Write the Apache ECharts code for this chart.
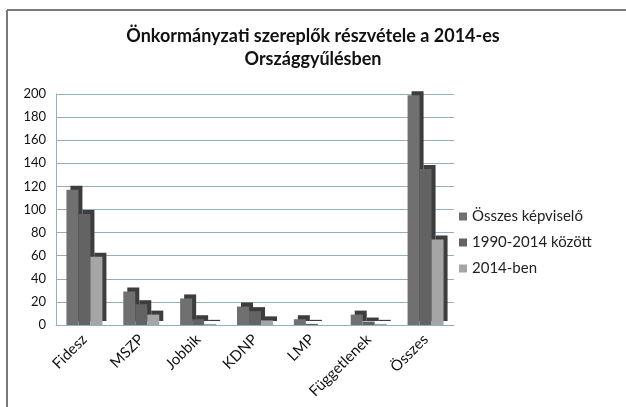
<!DOCTYPE html>
<html>
<head>
<meta charset="utf-8">
<script src="https://cdn.jsdelivr.net/npm/echarts@6/dist/echarts.min.js"></script>
<style>
  html, body { margin: 0; padding: 0; background: #fff; }
  #chart { width: 626px; height: 407px; }
</style>
</head>
<body>
<div id="chart"></div>
<script>
const categories = ['Fidesz', 'MSZP', 'Jobbik', 'KDNP', 'LMP', 'Függetlenek', 'Összes']
const osszesKepviselo = [117, 29, 23, 16, 5, 9, 199]
const kozott1990_2014 = [96, 18, 5, 12, 1, 3, 135]
const ben2014 = [59, 9, 1, 4, 0, 1, 74]
const seriesNames = ['Összes képviselő', '1990-2014 között', '2014-ben']
const colors = ['#707070', '#636363', '#a5a5a5']

const font = 'Lato, "Open Sans", sans-serif'

// fake the Excel 3D look: a dark copy shifted up-right acts as side and top face
const bar3d = (name, data, color) => ({
  name,
  type: 'bar',
  data,
  barWidth: 12,
  barGap: '0%',
  itemStyle: {
    color,
    shadowColor: '#3d3d3d',
    shadowOffsetX: 4,
    shadowOffsetY: -4,
    shadowBlur: 0,
  },
})

const chart = echarts.init(document.getElementById('chart'))
chart.setOption({
  animation: false,
  color: colors,
  title: {
    text: 'Önkormányzati szereplők részvétele a 2014-es\nOrszággyűlésben',
    left: 'center',
    top: 20,
    textStyle: { fontFamily: font, fontSize: 18, fontWeight: 'bold', color: '#111', lineHeight: 23 },
  },
  legend: {
    orient: 'vertical',
    left: 454,
    top: 204,
    itemWidth: 8,
    itemHeight: 8,
    itemGap: 11,
    icon: 'rect',
    textStyle: { fontFamily: font, fontSize: 15, color: '#222' },
    data: seriesNames,
  },
  grid: { left: 56, right: 172, top: 94, bottom: 82 },
  xAxis: {
    type: 'category',
    data: categories,
    axisLine: { lineStyle: { color: '#8fb0c0' } },
    axisTick: { show: false },
    axisLabel: { rotate: 45, fontFamily: font, fontSize: 15, color: '#111', margin: 12 },
  },
  yAxis: {
    type: 'value',
    min: 0,
    max: 200,
    interval: 20,
    axisLine: { show: true, lineStyle: { color: '#8fb0c0' } },
    axisTick: { show: false },
    splitLine: { lineStyle: { color: '#8fb0c0' } },
    axisLabel: { fontFamily: font, fontSize: 13, color: '#111', margin: 10 },
  },
  graphic: [
    { type: 'line', shape: { x1: 7, y1: 10, x2: 626, y2: 10 }, style: { stroke: '#7a7a7a', lineWidth: 2 } },
    { type: 'line', shape: { x1: 7, y1: 10, x2: 7, y2: 407 }, style: { stroke: '#7a7a7a', lineWidth: 2 } },
  ],
  series: [
    bar3d(seriesNames[0], osszesKepviselo, colors[0]),
    bar3d(seriesNames[1], kozott1990_2014, colors[1]),
    bar3d(seriesNames[2], ben2014, colors[2]),
  ],
})
</script>
</body>
</html>
